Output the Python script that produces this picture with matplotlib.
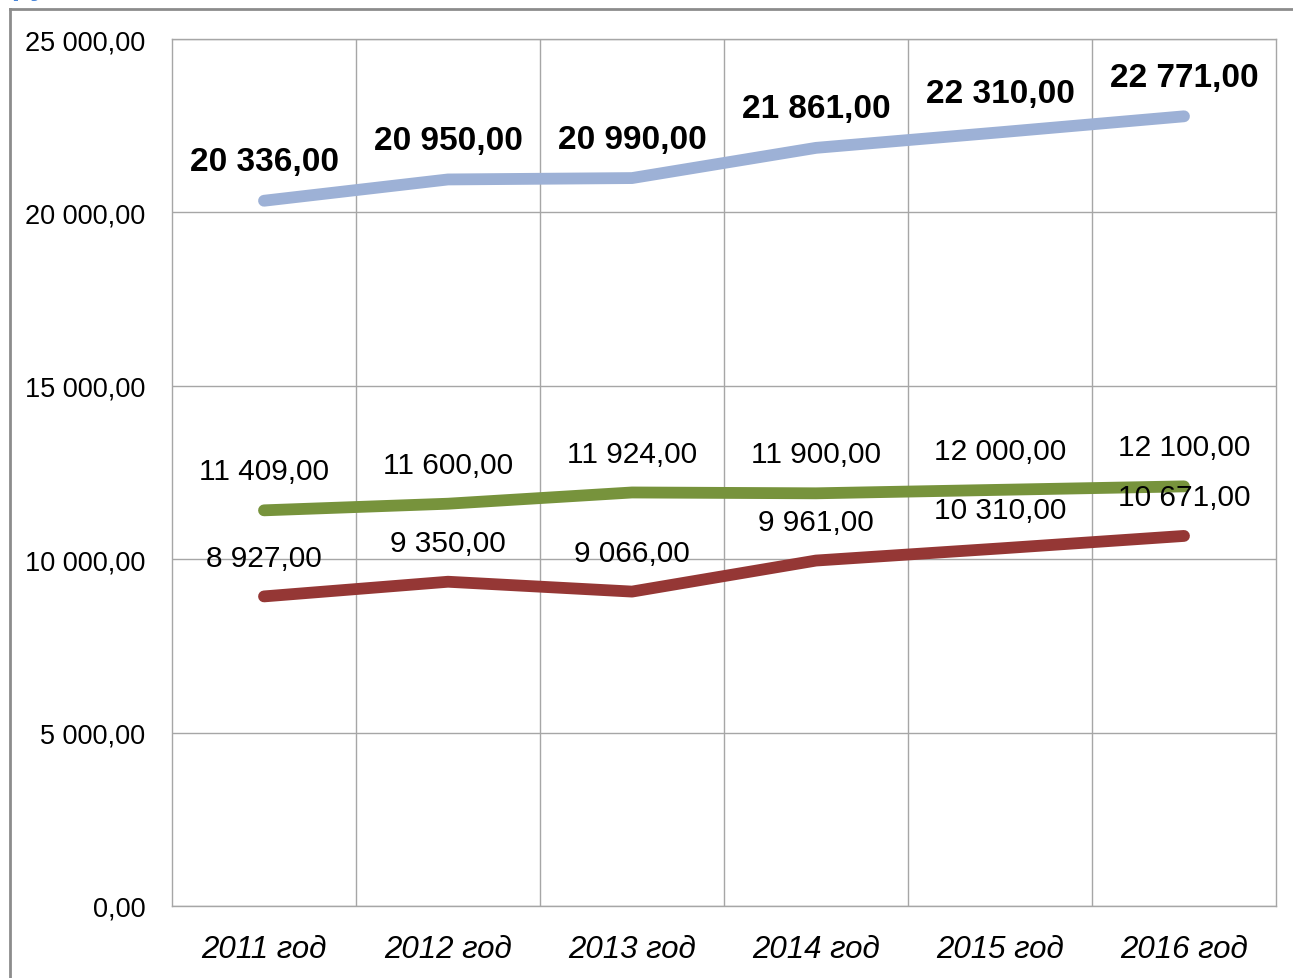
import matplotlib
matplotlib.use("Agg")
import matplotlib.pyplot as plt
from matplotlib.lines import Line2D
from matplotlib.font_manager import fontManager

names = {f.name for f in fontManager.ttflist}
NARROW = "Liberation Sans Narrow" if "Liberation Sans Narrow" in names else "Liberation Sans"
plt.rcParams['font.family'] = [NARROW, 'DejaVu Sans']

categories = ["2011 год", "2012 год", "2013 год", "2014 год", "2015 год", "2016 год"]
series_blue = [20336, 20950, 20990, 21861, 22310, 22771]
series_green = [11409, 11600, 11924, 11900, 12000, 12100]
series_red = [8927, 9350, 9066, 9961, 10310, 10671]
yticks = [0, 5000, 10000, 15000, 20000, 25000]


def fmt(v):
    s = f"{v:,.2f}"
    return s.replace(",", " ").replace(".", ",")


W, H = 1293, 979
fig = plt.figure(figsize=(W / 100, H / 100), dpi=100)
ax = fig.add_axes([172 / W, 1 - 907 / H, (1276 - 172) / W, (907 - 40) / H])

x = list(range(len(categories)))
ax.set_xlim(-0.5, len(categories) - 0.5)
ax.set_ylim(0, 25000)

grid_c = "#a6a6a6"
for b in range(1, len(categories)):
    ax.axvline(b - 0.5, color=grid_c, lw=1.0, zorder=1)
for t in yticks:
    ax.axhline(t, color=grid_c, lw=1.0, zorder=1)
for sp in ax.spines.values():
    sp.set_color(grid_c)
    sp.set_linewidth(1.0)

ax.plot(x, series_blue, color="#9db1d6", lw=8.5, solid_capstyle="round", zorder=3)
ax.plot(x, series_green, color="#77933c", lw=8.5, solid_capstyle="round", zorder=3)
ax.plot(x, series_red, color="#953735", lw=8.5, solid_capstyle="round", zorder=3)

for xi, v in zip(x, series_blue):
    ax.annotate(fmt(v), (xi, v), xytext=(0, 28), textcoords="offset points",
                ha="center", va="center", fontsize=24, fontweight="bold", zorder=4)
for xi, v in zip(x, series_green):
    ax.annotate(fmt(v), (xi, v), xytext=(0, 28), textcoords="offset points",
                ha="center", va="center", fontsize=21.5, zorder=4)
for xi, v in zip(x, series_red):
    ax.annotate(fmt(v), (xi, v), xytext=(0, 28), textcoords="offset points",
                ha="center", va="center", fontsize=21.5, zorder=4)

ax.set_xticks(x)
ax.set_xticklabels(categories, fontsize=22.5, style="italic")
ax.set_yticks(yticks)
ax.set_yticklabels([fmt(t) for t in yticks], fontsize=19.5)
ax.tick_params(axis="both", length=0)
ax.tick_params(axis="y", pad=19)
ax.tick_params(axis="x", pad=20)

# outer frame of the embedded chart
frame_c = "#8c8c8c"
fig.add_artist(Line2D([10 / W, 10 / W], [0, 1 - 10 / H], transform=fig.transFigure,
                      color=frame_c, lw=2))
fig.add_artist(Line2D([10 / W, 1], [1 - 10 / H, 1 - 10 / H], transform=fig.transFigure,
                      color=frame_c, lw=2))

# caption above the frame (only its lowest part is visible, as in the source)
fig.text(0.0, 1 + 6 / H, "группе", color="#4a86d8", fontsize=22, fontweight="bold",
         ha="left", va="baseline", family="Liberation Sans")

fig.savefig("out.png", dpi=100)
